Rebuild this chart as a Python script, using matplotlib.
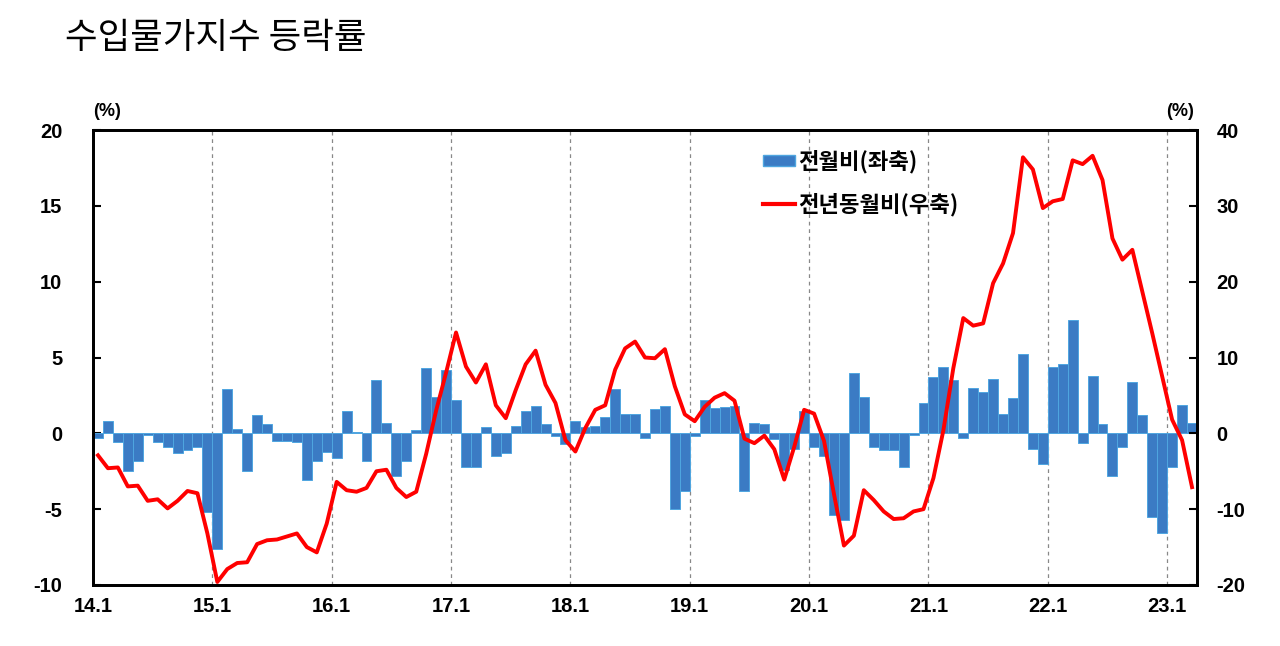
import numpy as np
import matplotlib
matplotlib.use("Agg")
import matplotlib.pyplot as plt
from matplotlib.patches import Patch
from matplotlib.lines import Line2D

plt.rcParams['font.family'] = ['Liberation Sans', 'Noto Sans CJK KR']
plt.rcParams['axes.unicode_minus'] = False

# monthly change vs previous month (%), left axis, 2014.1 - 2023.3
mom = [-0.3, 0.8, -0.6, -2.5, -1.8, -0.1, -0.6, -0.9, -1.3, -1.1, -0.9, -5.2,
       -7.6, 2.9, 0.3, -2.5, 1.2, 0.6, -0.5, -0.5, -0.6, -3.1, -1.8, -1.2,
       -1.6, 1.5, 0.1, -1.8, 3.5, 0.7, -2.8, -1.8, 0.2, 4.3, 2.4, 4.2,
       2.2, -2.2, -2.2, 0.4, -1.5, -1.3, 0.5, 1.5, 1.8, 0.6, -0.2, -0.7,
       0.8, 0.4, 0.5, 1.1, 2.9, 1.25, 1.3, -0.3, 1.6, 1.8, -5.0, -3.8,
       -0.15, 2.2, 1.7, 1.75, 1.8, -3.8, 0.7, 0.6, -0.4, -2.4, -1.0, 1.5,
       -0.9, -1.5, -5.4, -5.7, 4.0, 2.4, -0.9, -1.1, -1.1, -2.2, -0.1, 2.0,
       3.7, 4.4, 3.5, -0.3, 3.0, 2.75, 3.6, 1.3, 2.3, 5.2, -1.0, -2.0,
       4.4, 4.6, 7.5, -0.66, 3.8, 0.6, -2.8, -0.9, 3.4, 1.2, -5.5, -6.6,
       -2.2, 1.9, 0.7]

# change vs same month of previous year (%), right axis
yoy = [-2.9, -4.6, -4.5, -7.0, -6.9, -8.9, -8.7, -9.9, -8.9, -7.6, -7.9, -13.2,
       -19.6, -17.9, -17.1, -17.0, -14.6, -14.1, -14.0, -13.6, -13.2, -15.0, -15.7, -11.9,
       -6.4, -7.5, -7.7, -7.2, -5.0, -4.8, -7.2, -8.4, -7.7, -2.7, 3.0, 8.0,
       13.3, 8.8, 6.7, 9.1, 3.7, 2.0, 5.7, 9.1, 10.9, 6.4, 4.0, -0.9,
       -2.4, 0.7, 3.1, 3.7, 8.4, 11.2, 12.1, 10.0, 9.9, 11.1, 6.2, 2.5,
       1.6, 3.5, 4.7, 5.3, 4.3, -0.7, -1.3, -0.3, -2.1, -6.1, -1.8, 3.1,
       2.6, -1.0, -8.0, -14.8, -13.5, -7.5, -8.8, -10.3, -11.3, -11.2, -10.3, -10.0,
       -5.9, 0.4, 8.6, 15.2, 14.2, 14.5, 19.8, 22.4, 26.4, 36.4, 34.8, 29.7,
       30.6, 30.9, 36.0, 35.5, 36.6, 33.4, 25.7, 22.9, 24.2, 18.7, 13.2, 7.5,
       1.8, -0.9, -7.1]

year_labels = ['14.1', '15.1', '16.1', '17.1', '18.1', '19.1', '20.1', '21.1', '22.1', '23.1']
label_mom = '전월비(좌축)'
label_yoy = '전년동월비(우축)'
title = '수입물가지수 등락률'

n = len(mom)
xc = np.arange(n) + 0.5
year_pos = np.arange(len(year_labels)) * 12

bar_color = '#3b7bc4'
edge_color = '#4fa6e0'
line_color = '#ff0000'

fig = plt.figure(figsize=(12.8, 6.46), dpi=100)
ax = fig.add_axes([93/1280, 61/646, 1104/1280, 455/646])

ax.bar(xc, mom, width=1.0, color=bar_color, edgecolor=edge_color, linewidth=0.7, zorder=2)
ax.set_xlim(0, n)
ax.set_ylim(-10, 20)
ax.set_yticks(np.arange(-10, 21, 5))
ax.set_xticks(year_pos)
ax.set_xticklabels(year_labels)
for xp in year_pos[1:]:
    ax.axvline(xp, color='#888888', lw=0.9, ls=(0, (3, 3)), zorder=1)

ax2 = ax.twinx()
ax2.plot(xc, yoy, color=line_color, lw=2.8, zorder=3)
ax2.set_ylim(-20, 40)
ax2.set_yticks(np.arange(-20, 41, 10))

for a in (ax, ax2):
    for s in a.spines.values():
        s.set_linewidth(2)
        s.set_color('black')
    a.tick_params(axis='y', direction='in', length=6, width=1.5, labelsize=14.5)
    for lab in a.get_yticklabels():
        lab.set_fontweight('bold')
ax.tick_params(axis='y', pad=22)
ax2.tick_params(axis='y', pad=14)
ax.tick_params(axis='x', length=0, labelsize=14.5, pad=9)
for lab in ax.get_xticklabels():
    lab.set_fontweight('bold')

fig.text(107/1280, 1 - 112/646, '(%)', fontsize=13, fontweight='bold', ha='center', va='center')
fig.text(1180/1280, 1 - 112/646, '(%)', fontsize=13, fontweight='bold', ha='center', va='center')
fig.text(65/1280, 1 - 38/646, title, fontsize=25.5, ha='left', va='center',
         family=['Noto Sans CJK KR', 'DejaVu Sans'])

handles = [Patch(facecolor=bar_color, edgecolor=edge_color),
           Line2D([], [], color=line_color, lw=3)]
fig.legend(handles, [label_mom, label_yoy], loc='upper left',
           bbox_to_anchor=(763/1280, 1 - 150/646), frameon=False,
           prop={'size': 16, 'weight': 'bold', 'family': ['Noto Sans CJK KR', 'DejaVu Sans']},
           handlelength=1.45, handleheight=0.4, handletextpad=0.15, labelspacing=0.85,
           borderpad=0, borderaxespad=0)

fig.savefig('out.png', dpi=100)
